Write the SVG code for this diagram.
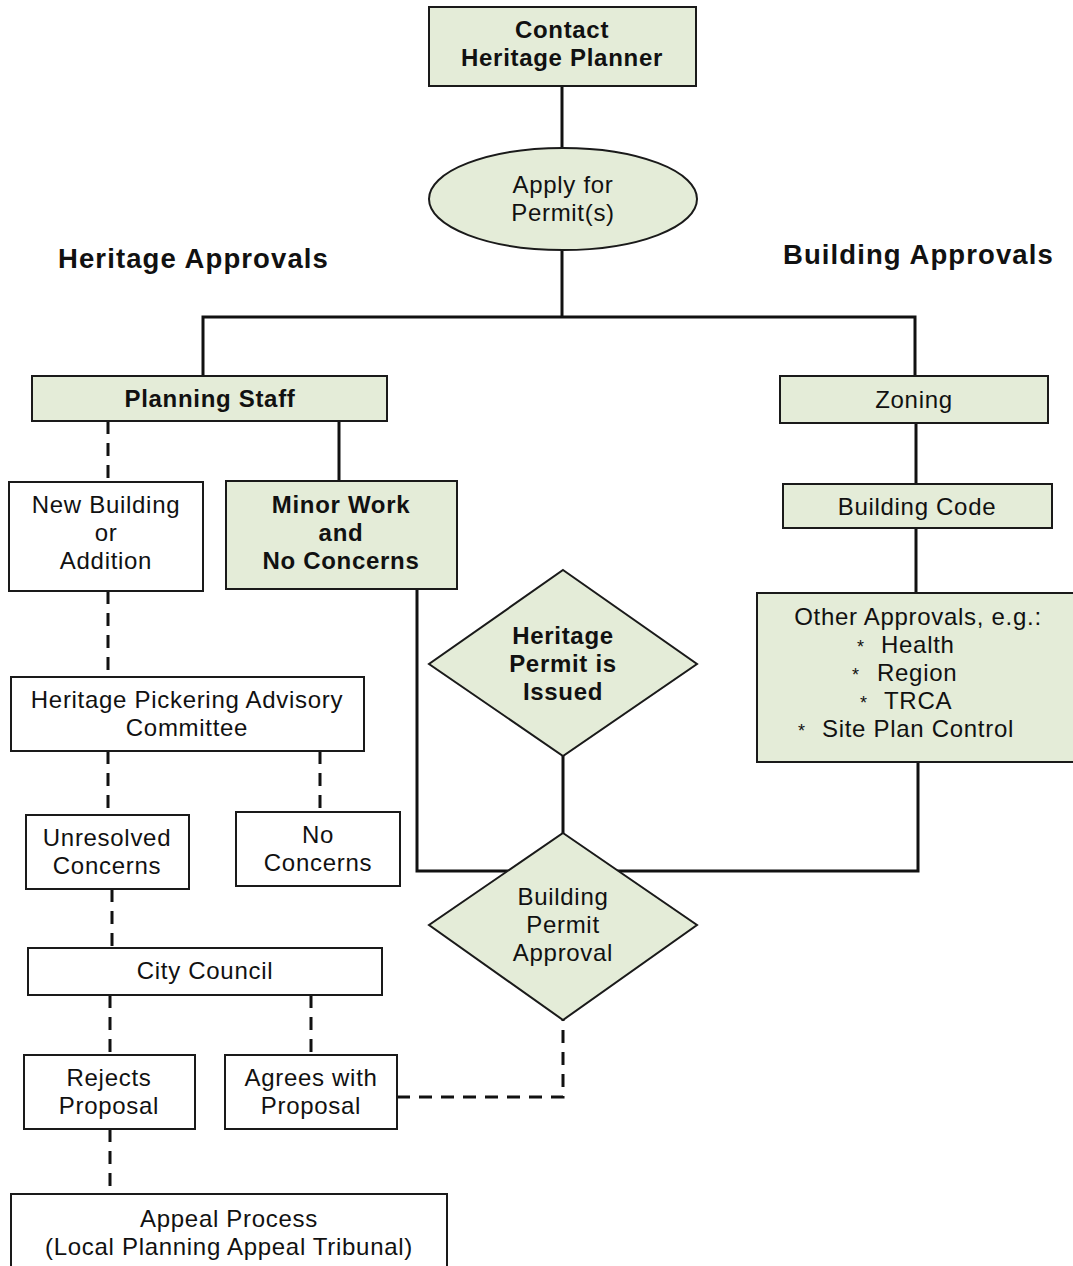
<svg xmlns="http://www.w3.org/2000/svg" width="1073" height="1266" viewBox="0 0 1073 1266">
<style>
text{font-family:"Liberation Sans",Arial,sans-serif;font-size:24px;letter-spacing:0.7px;fill:#111;text-anchor:middle}
.b{font-weight:bold}
.h{font-weight:bold;font-size:27.5px;letter-spacing:1.1px;text-anchor:start}
.g{fill:#e4ecd8;stroke:#1a1a1a;stroke-width:2}
.w{fill:#fff;stroke:#1a1a1a;stroke-width:2}
.s{fill:none;stroke:#111;stroke-width:3}
.d{fill:none;stroke:#111;stroke-width:3;stroke-dasharray:13 9}
.ast{font-size:18px;letter-spacing:0;text-anchor:start}
.st{text-anchor:start}
</style>
<rect width="1073" height="1266" fill="#fff"/>
<text class="h" x="58" y="268">Heritage Approvals</text>
<text class="h" x="783" y="264">Building Approvals</text>
<g id="connectors">
<path class="s" d="M562 86V148"/>
<path class="s" d="M562 250V317"/>
<path class="s" d="M203 377V317H915V377"/>
<path class="s" d="M339 421V481"/>
<path class="s" d="M916 423V484"/>
<path class="s" d="M916 528V593"/>
<path class="s" d="M417 589V871H918V762"/>
<path class="s" d="M563 756V833"/>
<path class="d" d="M108 421V482"/>
<path class="d" d="M108 591V677"/>
<path class="d" d="M108 751V815"/>
<path class="d" d="M320 751V812"/>
<path class="d" d="M112 889V948"/>
<path class="d" d="M110 995V1055"/>
<path class="d" d="M311 995V1055"/>
<path class="d" d="M110 1129V1194"/>
<path class="d" d="M397 1097H563V1020"/>
</g>
<g id="contact">
<rect class="g" x="429" y="7" width="267" height="79"/>
<text class="b" x="562" y="38">Contact</text>
<text class="b" x="562" y="66">Heritage Planner</text>
</g>
<g id="apply">
<ellipse class="g" cx="563" cy="199" rx="134" ry="51"/>
<text x="563" y="193">Apply for</text>
<text x="563" y="221">Permit(s)</text>
</g>
<g id="planning-staff">
<rect class="g" x="32" y="376" width="355" height="45"/>
<text class="b" x="210" y="407">Planning Staff</text>
</g>
<g id="new-building">
<rect class="w" x="9" y="482" width="194" height="109"/>
<text x="106" y="513">New Building</text>
<text x="106" y="541">or</text>
<text x="106" y="569">Addition</text>
</g>
<g id="minor-work">
<rect class="g" x="226" y="481" width="231" height="108"/>
<text class="b" x="341" y="513">Minor Work</text>
<text class="b" x="341" y="541">and</text>
<text class="b" x="341" y="569">No Concerns</text>
</g>
<g id="zoning">
<rect class="g" x="780" y="376" width="268" height="47"/>
<text x="914" y="408">Zoning</text>
</g>
<g id="building-code">
<rect class="g" x="783" y="484" width="269" height="44"/>
<text x="917" y="515">Building Code</text>
</g>
<g id="other-approvals">
<rect class="g" x="757" y="593" width="320" height="169"/>
<text x="918" y="625">Other Approvals, e.g.:</text>
<text class="ast" x="857" y="653">*</text>
<text class="st" x="881" y="653">Health</text>
<text class="ast" x="852" y="681">*</text>
<text class="st" x="877" y="681">Region</text>
<text class="ast" x="860" y="709">*</text>
<text class="st" x="884" y="709">TRCA</text>
<text class="ast" x="798" y="737">*</text>
<text class="st" x="822" y="737">Site Plan Control</text>
</g>
<g id="heritage-permit">
<polygon class="g" points="563,570 697,664 563,756 429,664"/>
<text class="b" x="563" y="644">Heritage</text>
<text class="b" x="563" y="672">Permit is</text>
<text class="b" x="563" y="700">Issued</text>
</g>
<g id="building-permit">
<polygon class="g" points="563,833 697,925 563,1020 429,925"/>
<text x="563" y="905">Building</text>
<text x="563" y="933">Permit</text>
<text x="563" y="961">Approval</text>
</g>
<g id="hpac">
<rect class="w" x="11" y="677" width="353" height="74"/>
<text x="187" y="708">Heritage Pickering Advisory</text>
<text x="187" y="736">Committee</text>
</g>
<g id="unresolved">
<rect class="w" x="26" y="815" width="163" height="74"/>
<text x="107" y="846">Unresolved</text>
<text x="107" y="874">Concerns</text>
</g>
<g id="no-concerns">
<rect class="w" x="236" y="812" width="164" height="74"/>
<text x="318" y="843">No</text>
<text x="318" y="871">Concerns</text>
</g>
<g id="city-council">
<rect class="w" x="28" y="948" width="354" height="47"/>
<text x="205" y="979">City Council</text>
</g>
<g id="rejects">
<rect class="w" x="24" y="1055" width="171" height="74"/>
<text x="109" y="1086">Rejects</text>
<text x="109" y="1114">Proposal</text>
</g>
<g id="agrees">
<rect class="w" x="225" y="1055" width="172" height="74"/>
<text x="311" y="1086">Agrees with</text>
<text x="311" y="1114">Proposal</text>
</g>
<g id="appeal">
<rect class="w" x="11" y="1194" width="436" height="80"/>
<text x="229" y="1227">Appeal Process</text>
<text x="229" y="1255">(Local Planning Appeal Tribunal)</text>
</g>
</svg>
